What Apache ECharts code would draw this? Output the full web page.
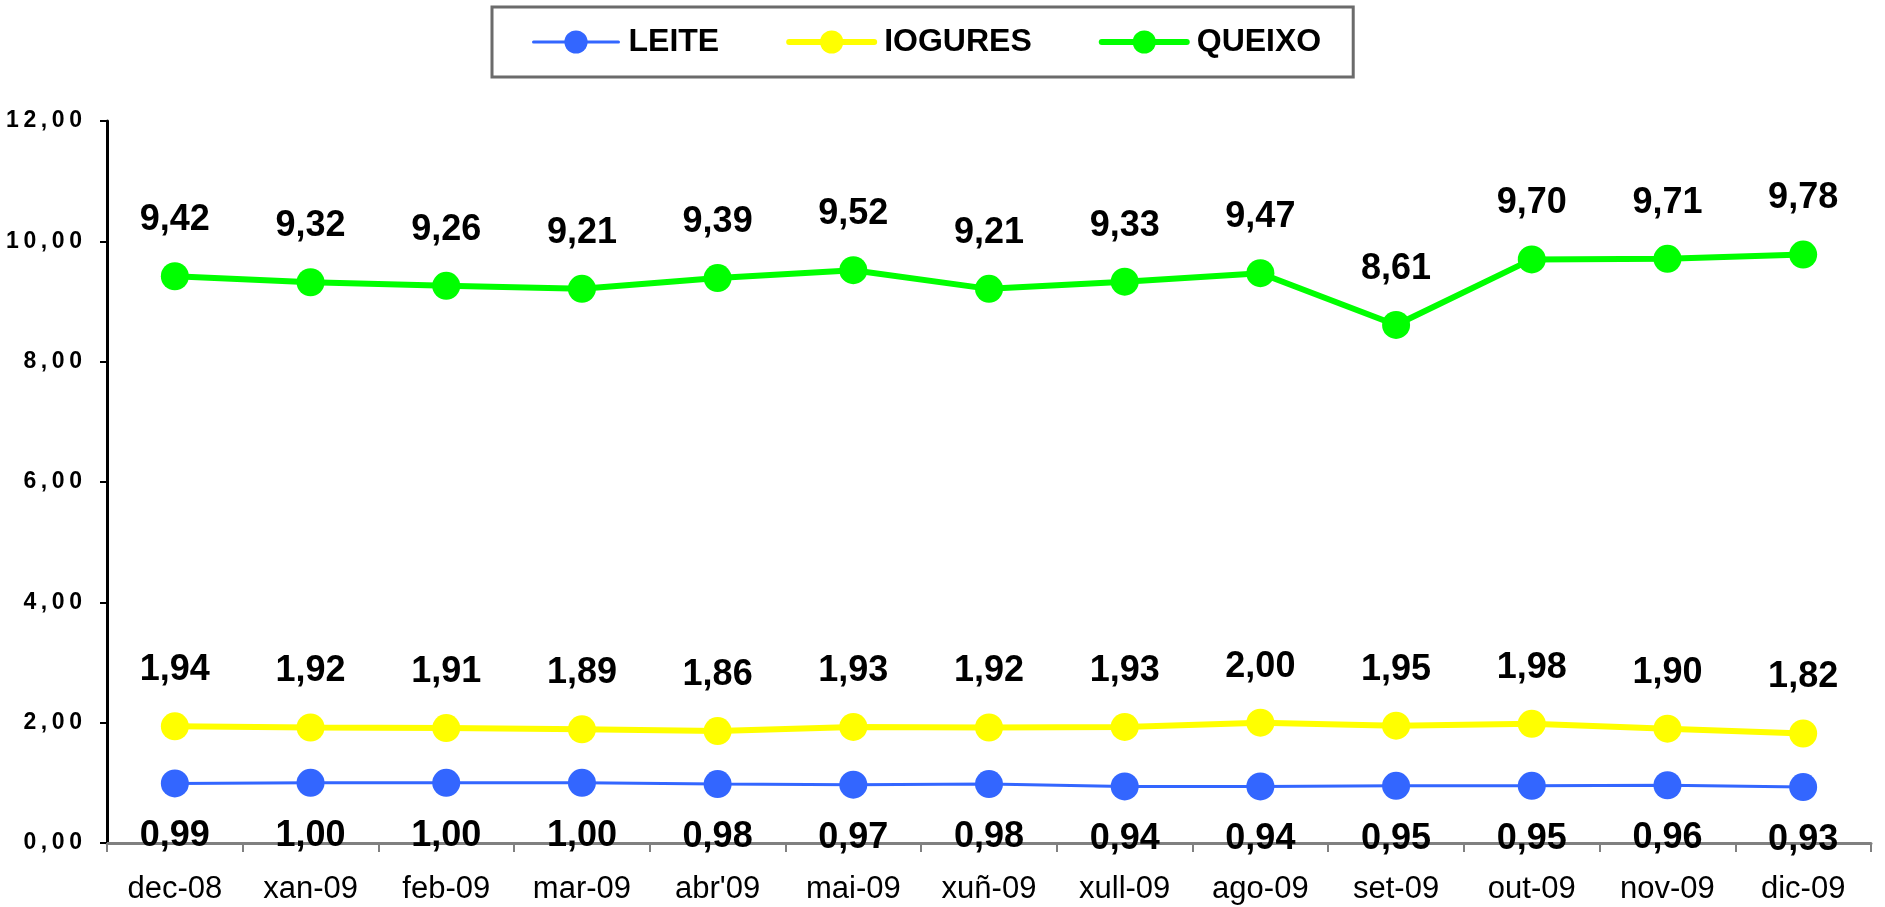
<!DOCTYPE html>
<html>
<head>
<meta charset="utf-8">
<title>Prezos medios: leite, iogures e queixo</title>
<script src="https://cdn.jsdelivr.net/npm/echarts@6/dist/echarts.min.js"></script>
<style>
  html, body { margin: 0; padding: 0; background: #ffffff; }
  #chart { width: 1885px; height: 907px; }
</style>
</head>
<body>
<div id="chart"></div>
<script>
// Months on the category axis
const months = ['dec-08', 'xan-09', 'feb-09', 'mar-09', "abr'09", 'mai-09', 'xuñ-09',
                'xull-09', 'ago-09', 'set-09', 'out-09', 'nov-09', 'dic-09'];

// Monthly values per product
const leite   = [0.99, 1.00, 1.00, 1.00, 0.98, 0.97, 0.98, 0.94, 0.94, 0.95, 0.95, 0.96, 0.93];
const iogures = [1.94, 1.92, 1.91, 1.89, 1.86, 1.93, 1.92, 1.93, 2.00, 1.95, 1.98, 1.90, 1.82];
const queixo  = [9.42, 9.32, 9.26, 9.21, 9.39, 9.52, 9.21, 9.33, 9.47, 8.61, 9.70, 9.71, 9.78];

// Value axis range
const yMin = 0, yMax = 12, yStep = 2;

const FONT = '"Liberation Sans", Arial, sans-serif';

// Series colours and line widths
const COLORS = { LEITE: '#3366ff', IOGURES: '#ffff00', QUEIXO: '#00ff00' };
const WIDTHS = { LEITE: 3, IOGURES: 6, QUEIXO: 6 };

// Decimal comma, as used in the labels
const fmt = v => Number(v).toFixed(2).replace('.', ',');

function makeSeries(name, values, labelPos, labelDist) {
  const color = COLORS[name];
  return {
    name: name,
    type: 'line',
    data: values,
    symbol: 'circle',
    symbolSize: 28,
    lineStyle: { color: color, width: WIDTHS[name] },
    itemStyle: { color: color },
    emphasis: { disabled: true },
    animation: false,
    label: {
      show: true,
      position: labelPos,
      distance: labelDist,
      formatter: p => fmt(p.value),
      color: '#000000',
      fontFamily: FONT,
      fontWeight: 'bold',
      fontSize: 36
    }
  };
}

const legendItem = name => ({
  name: name,
  lineStyle: { color: COLORS[name], width: WIDTHS[name], cap: 'round' },
  itemStyle: { color: COLORS[name] }
});

const chart = echarts.init(document.getElementById('chart'), null, { renderer: 'canvas' });

chart.setOption({
  backgroundColor: '#ffffff',
  animation: false,
  legend: {
    show: true,
    left: 492,
    top: 7,
    orient: 'horizontal',
    padding: [19, 32, 19, 40],
    itemWidth: 85,
    itemHeight: 29,
    itemGap: 67,
    borderColor: '#6b6b6b',
    borderWidth: 3,
    backgroundColor: '#ffffff',
    selectedMode: false,
    textStyle: {
      color: '#000000',
      fontFamily: FONT,
      fontWeight: 'bold',
      fontSize: 32,
      padding: [0, 0, 0, 5]
    },
    data: ['LEITE', 'IOGURES', 'QUEIXO'].map(legendItem)
  },
  grid: {
    left: 107,
    right: 14,
    top: 121,
    bottom: 64,
    containLabel: false,
    outerBoundsMode: 'none'
  },
  xAxis: {
    type: 'category',
    data: months,
    boundaryGap: true,
    axisLine: { show: true, lineStyle: { color: '#808080', width: 3 } },
    axisTick: { show: true, length: 9, lineStyle: { color: '#808080', width: 2 } },
    axisLabel: {
      show: true,
      interval: 0,
      margin: 31,
      color: '#000000',
      fontFamily: FONT,
      fontSize: 31
    },
    splitLine: { show: false }
  },
  yAxis: {
    type: 'value',
    min: yMin,
    max: yMax,
    interval: yStep,
    axisLine: { show: true, lineStyle: { color: '#000000', width: 3 } },
    axisTick: { show: true, length: 7, lineStyle: { color: '#000000', width: 2 } },
    axisLabel: {
      show: true,
      margin: 25,
      color: '#000000',
      fontFamily: FONT,
      fontWeight: 'bold',
      fontSize: 23,
      formatter: v => fmt(v).split('').join('\u2009')
    },
    splitLine: { show: false }
  },
  series: [
    makeSeries('LEITE', leite, 'bottom', 21),
    makeSeries('IOGURES', iogures, 'top', 24),
    makeSeries('QUEIXO', queixo, 'top', 24)
  ]
});
</script>
</body>
</html>
